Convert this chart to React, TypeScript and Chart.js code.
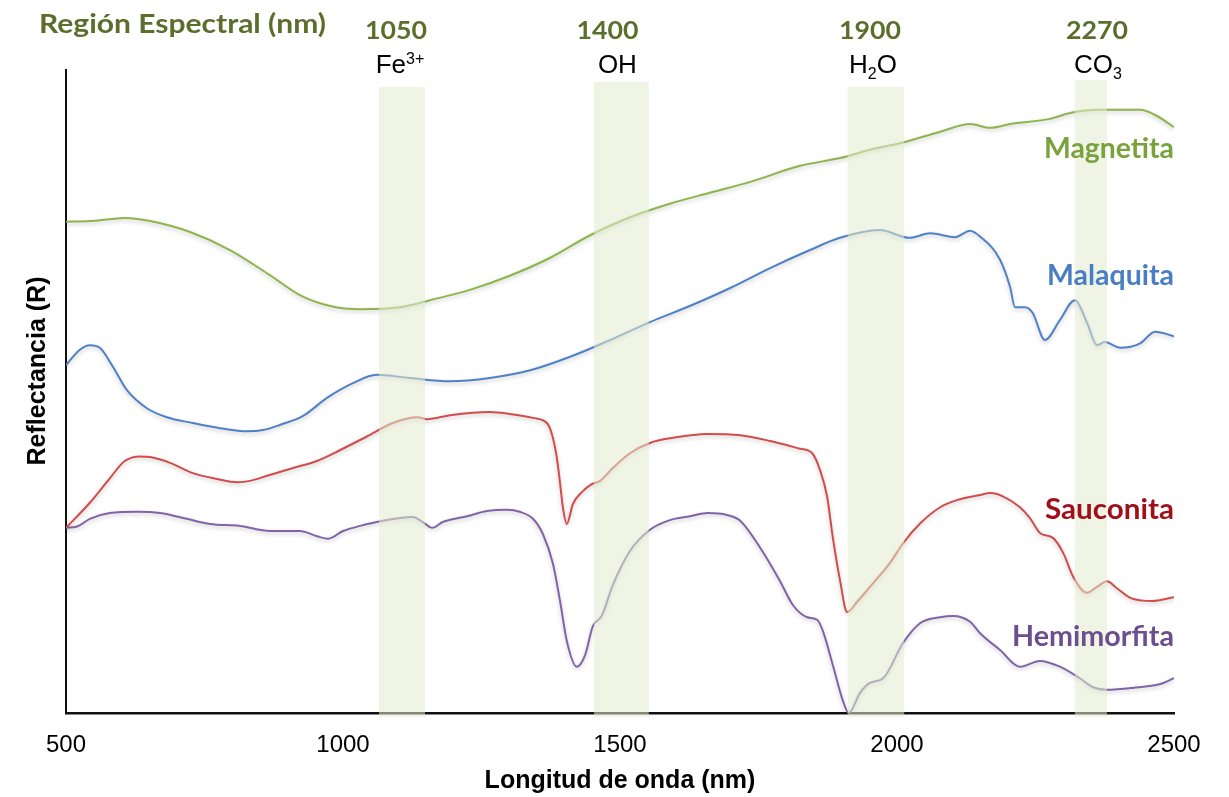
import React, { useEffect, useRef } from 'react';
import { Chart, registerables } from 'chart.js';

Chart.register(...registerables);

// ---- Data (wavelength nm, reflectance in relative units) ----
const magnetitaNm = [500, 543, 579, 606, 652, 724, 796, 868, 922, 977, 1031, 1103, 1157, 1229, 1301, 1374, 1446, 1518, 1590, 1662, 1735, 1825, 1897, 1951, 2005, 2078, 2132, 2168, 2204, 2276, 2312, 2366, 2439, 2466, 2500];
const magnetitaR = [76.4, 76.5, 76.8, 77.0, 76.5, 74.8, 72.0, 68.1, 65.0, 63.3, 62.8, 63.1, 64.2, 65.8, 68.0, 70.8, 74.3, 77.1, 79.2, 80.9, 82.6, 85.1, 86.3, 87.6, 88.6, 90.4, 91.6, 91.0, 91.6, 92.4, 93.3, 93.8, 93.8, 93.0, 91.1];

const malaquitaNm = [500, 525, 543, 561, 585, 610, 646, 682, 729, 778, 827, 856, 886, 928, 971, 1018, 1061, 1121, 1193, 1265, 1338, 1410, 1482, 1554, 1626, 1699, 1771, 1843, 1897, 1969, 2023, 2060, 2105, 2132, 2150, 2186, 2204, 2213, 2231, 2245, 2267, 2294, 2321, 2343, 2361, 2375, 2403, 2439, 2466, 2500];
const malaquitaR = [54.1, 56.5, 57.2, 56.8, 53.8, 50.2, 47.4, 46.0, 45.1, 44.3, 43.8, 44.0, 44.8, 46.2, 49.0, 51.3, 52.6, 52.1, 51.6, 52.1, 53.3, 55.4, 58.0, 60.8, 63.3, 66.1, 69.2, 72.0, 73.9, 75.1, 73.9, 74.6, 74.0, 75.0, 74.1, 70.5, 66.3, 63.1, 63.1, 62.2, 58.0, 61.1, 64.2, 60.7, 57.2, 57.7, 56.8, 57.5, 59.3, 58.6];

const sauconitaNm = [500, 543, 579, 606, 634, 652, 688, 729, 773, 809, 832, 863, 910, 953, 995, 1043, 1090, 1134, 1152, 1193, 1265, 1301, 1343, 1368, 1377, 1386, 1392, 1397, 1404, 1415, 1433, 1449, 1464, 1487, 1518, 1554, 1596, 1657, 1717, 1771, 1825, 1847, 1861, 1874, 1884, 1897, 1910, 1928, 1957, 1987, 2011, 2042, 2078, 2108, 2150, 2168, 2191, 2222, 2240, 2258, 2282, 2300, 2318, 2343, 2361, 2379, 2397, 2421, 2460, 2500];
const sauconitaR = [28.8, 32.7, 36.5, 39.2, 39.9, 39.8, 38.9, 37.3, 36.4, 35.9, 36.1, 36.9, 38.1, 39.2, 40.9, 43.0, 45.1, 46.0, 45.7, 46.3, 46.8, 46.5, 45.9, 45.1, 43.4, 39.7, 35.6, 31.9, 29.4, 32.5, 34.5, 35.6, 36.1, 38.1, 40.4, 42.0, 42.8, 43.4, 43.2, 42.3, 41.1, 40.4, 37.8, 33.6, 27.4, 20.7, 15.7, 17.3, 20.2, 23.3, 26.4, 29.5, 32.0, 33.1, 33.9, 34.2, 33.7, 32.0, 30.3, 28.0, 27.2, 24.9, 21.2, 18.7, 19.6, 20.5, 19.4, 17.9, 17.4, 18.0];

const hemimorfitaNm = [500, 520, 543, 579, 628, 670, 718, 760, 814, 868, 922, 953, 973, 1000, 1031, 1072, 1126, 1144, 1161, 1180, 1224, 1260, 1296, 1319, 1343, 1361, 1379, 1392, 1404, 1422, 1437, 1451, 1467, 1487, 1518, 1554, 1590, 1626, 1659, 1693, 1717, 1753, 1789, 1812, 1838, 1856, 1866, 1884, 1902, 1913, 1933, 1951, 1975, 2011, 2042, 2078, 2101, 2132, 2150, 2186, 2222, 2258, 2294, 2330, 2354, 2379, 2426, 2475, 2500];
const hemimorfitaR = [28.8, 29.0, 30.2, 31.1, 31.3, 31.1, 30.2, 29.4, 29.1, 28.3, 28.3, 27.5, 27.1, 28.3, 29.1, 29.9, 30.5, 29.7, 28.8, 29.7, 30.6, 31.4, 31.6, 31.3, 30.2, 27.8, 23.2, 17.3, 11.2, 7.2, 9.0, 13.5, 15.1, 19.9, 25.2, 28.5, 30.0, 30.6, 31.1, 30.8, 29.9, 25.7, 20.5, 16.8, 14.9, 14.5, 12.8, 7.5, 2.0, 0.0, 3.1, 4.7, 5.4, 10.9, 14.0, 14.9, 15.1, 14.2, 12.4, 9.8, 7.2, 8.1, 7.2, 5.4, 4.0, 3.6, 3.9, 4.5, 5.4];

const seriesNames = ['Magnetita', 'Malaquita', 'Sauconita', 'Hemimorfita'];

// Spectral regions
const bandNumbers = ['1050', '1400', '1900', '2270'];
const bandStart = [1065, 1453, 1911, 2321];
const bandEnd = [1148, 1552, 2013, 2379];
const bandFormulas: { t: string; s?: 'sup' | 'sub' }[][] = [
  [{ t: 'Fe' }, { t: '3+', s: 'sup' }],
  [{ t: 'OH' }],
  [{ t: 'H' }, { t: '2', s: 'sub' }, { t: 'O' }],
  [{ t: 'CO' }, { t: '3', s: 'sub' }],
];

const xTicks = [500, 1000, 1500, 2000, 2500];

// ---- Styles / layout ----
const lineColors = ['#8db54c', '#4f81c6', '#d24c4c', '#8064a8'];
const labelColors = ['#7aa23c', '#4a7ec4', '#a0101a', '#6c4f8f'];
const labelBaselines = [158, 285, 519, 646];
const labelWidths = [130, 127, 129, 162];
const bandTopPx = [87, 82, 87, 80];
const bandBottomPx = 717;
const numberDx = [-6, -14, -6, 6];
const formulaDx = [-2, -4, -3, 7];
const OLIVE = '#5b6e2c';
const ARIAL = '"Liberation Sans", Arial, sans-serif';
const LATO = 'Lato, "Open Sans", sans-serif';

function pairs(xs: number[], ys: number[]) {
  return xs.map((x, i) => ({ x, y: ys[i] }));
}

// draw text stretched horizontally to a target width
function fitText(ctx: CanvasRenderingContext2D, text: string, x: number, y: number, width: number, align: 'left' | 'right' | 'center') {
  const w = ctx.measureText(text).width;
  const k = width / w;
  ctx.save();
  ctx.textAlign = 'left';
  const x0 = align === 'left' ? x : align === 'right' ? x - width : x - width / 2;
  ctx.translate(x0, y);
  ctx.scale(k, 1);
  ctx.fillText(text, 0, 0);
  ctx.restore();
}

const overlay = {
  id: 'overlay',
  beforeDatasetDraw(chart: any) {
    const ctx = chart.ctx;
    ctx.save();
    ctx.shadowColor = 'rgba(0,0,0,0.22)';
    ctx.shadowBlur = 4;
    ctx.shadowOffsetY = 2;
  },
  afterDatasetDraw(chart: any) {
    chart.ctx.restore();
  },
  afterDatasetsDraw(chart: any) {
    const { ctx, scales } = chart;
    const x = scales.x;
    const area = chart.chartArea;
    ctx.save();
    // bands overlay
    ctx.fillStyle = 'rgba(226,235,206,0.55)';
    bandStart.forEach((s, i) => {
      const x0 = x.getPixelForValue(s);
      const x1 = x.getPixelForValue(bandEnd[i]);
      ctx.fillRect(x0, bandTopPx[i], x1 - x0, bandBottomPx - bandTopPx[i]);
    });

    // band numbers
    ctx.textBaseline = 'alphabetic';
    ctx.fillStyle = OLIVE;
    ctx.font = `700 24px ${LATO}`;
    bandStart.forEach((s, i) => {
      const cx = (x.getPixelForValue(s) + x.getPixelForValue(bandEnd[i])) / 2 + numberDx[i];
      fitText(ctx, bandNumbers[i], cx, 39, 62, 'center');
    });

    // band formulas
    ctx.fillStyle = '#000';
    bandFormulas.forEach((segs, i) => {
      const big = `400 26px ${ARIAL}`;
      const small = `400 16px ${ARIAL}`;
      let w = 0;
      segs.forEach((sg) => {
        ctx.font = sg.s ? small : big;
        w += ctx.measureText(sg.t).width;
      });
      const cx = (x.getPixelForValue(bandStart[i]) + x.getPixelForValue(bandEnd[i])) / 2 + formulaDx[i];
      let px = cx - w / 2;
      ctx.textAlign = 'left';
      segs.forEach((sg) => {
        ctx.font = sg.s ? small : big;
        const dy = sg.s === 'sup' ? -9 : sg.s === 'sub' ? 6 : 0;
        ctx.fillText(sg.t, px, 73 + dy);
        px += ctx.measureText(sg.t).width;
      });
    });

    // header title
    ctx.fillStyle = OLIVE;
    ctx.font = `700 26px ${LATO}`;
    fitText(ctx, 'Región Espectral (nm)', 39, 33, 287, 'left');

    // series labels
    ctx.font = `700 28px ${LATO}`;
    seriesNames.forEach((n, i) => {
      ctx.fillStyle = labelColors[i];
      fitText(ctx, n, 1174, labelBaselines[i], labelWidths[i], 'right');
    });

    // axis titles
    ctx.fillStyle = '#000';
    ctx.textAlign = 'center';
    ctx.font = `700 25px ${ARIAL}`;
    ctx.fillText('Longitud de onda (nm)', (area.left + area.right) / 2, 788);
    ctx.save();
    ctx.translate(38, 371);
    ctx.rotate(-Math.PI / 2);
    ctx.textBaseline = 'middle';
    ctx.fillText('Reflectancia (R)', 0, 0);
    ctx.restore();

    ctx.restore();
  },
};

export default function App() {
  const ref = useRef<HTMLCanvasElement | null>(null);

  useEffect(() => {
    document.body.style.margin = '0';
    const canvas = ref.current!;
    const chart = new Chart(canvas, {
      type: 'line',
      data: {
        datasets: [
          { label: seriesNames[0], data: pairs(magnetitaNm, magnetitaR) },
          { label: seriesNames[1], data: pairs(malaquitaNm, malaquitaR) },
          { label: seriesNames[2], data: pairs(sauconitaNm, sauconitaR) },
          { label: seriesNames[3], data: pairs(hemimorfitaNm, hemimorfitaR) },
        ].map((d, i) => ({
          ...d,
          borderColor: lineColors[i],
          backgroundColor: lineColors[i],
          borderWidth: 2,
          pointRadius: 0,
          fill: false,
          cubicInterpolationMode: 'monotone' as const,
        })),
      },
      options: {
        animation: false,
        responsive: false,
        devicePixelRatio: 1,
        layout: { padding: { top: 70, right: 55, left: 0, bottom: 0 } },
        plugins: { legend: { display: false }, tooltip: { enabled: false }, title: { display: false } },
        scales: {
          x: {
            type: 'linear',
            min: 500,
            max: 2500,
            afterBuildTicks: (s: any) => {
              s.ticks = xTicks.map((v) => ({ value: v }));
            },
            ticks: {
              padding: 18,
              color: '#000',
              font: { family: ARIAL, size: 24 },
              maxRotation: 0,
              autoSkip: false,
              callback: (v: any) => String(v),
            },
            grid: { display: false, drawTicks: false },
            border: { display: true, color: '#111', width: 2.5 },
            afterFit: (s: any) => {
              s.height = 84;
            },
          },
          y: {
            min: 0,
            max: 100,
            ticks: { display: false },
            grid: { display: false, drawTicks: false },
            border: { display: true, color: '#111', width: 2 },
            afterFit: (s: any) => {
              s.width = 66;
            },
          },
        },
      },
      plugins: [overlay],
    });
    return () => chart.destroy();
  }, []);

  return (
    <div style={{ position: 'fixed', left: 0, top: 0, width: 1229, height: 797, background: '#fff' }}>
      <canvas ref={ref} width={1229} height={797} />
    </div>
  );
}
